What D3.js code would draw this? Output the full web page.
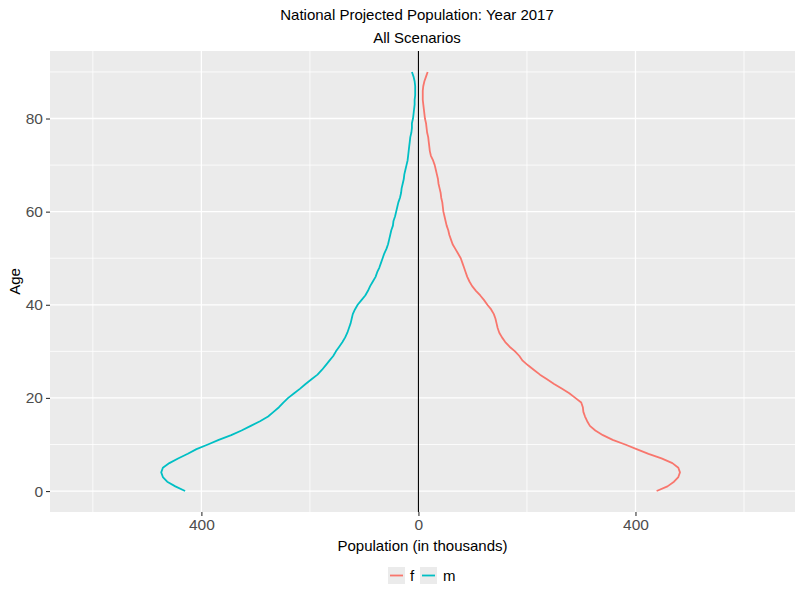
<!DOCTYPE html>
<html>
<head>
<meta charset="utf-8">
<script src="https://cdn.jsdelivr.net/npm/d3@7"></script>
<style>
body { margin: 0; background: #fff; }
svg { display: block; font-family: "Liberation Sans", Arial, sans-serif; }
</style>
</head>
<body>
<svg id="chart" width="800" height="600"></svg>
<script>
const ages = d3.range(0, 91);
const female = [439,459,471,479,482,479,468,448,424,402,
  381,358,340,326,316,311,307,304,303,300,
  289,278,264,250,237,224,213,202,192,186,
  178,168,160,154,149,146,144,142,139,134,
  127,121,114,106,99,94,90,87,84,81,
  78,73,68,63,60,57,55,52,50,48,
  46,45,44,42,41,39,37,36,34,32,
  30,27,23,21,20,19,18,16,15,14,
  12,11,10,9,8,8,8,9,11,14,17];
const male = [-430,-448,-463,-471,-474,-471,-459,-443,-425,-409,
  -388,-368,-345,-326,-309,-292,-277,-267,-257,-249,
  -240,-229,-218,-208,-197,-186,-178,-171,-164,-157,
  -152,-146,-140,-135,-131,-128,-125,-123,-121,-117,
  -112,-105,-98,-93,-89,-84,-79,-76,-72,-69,
  -66,-63,-59,-56,-54,-52,-50,-47,-46,-43,
  -41,-39,-37,-34,-32,-31,-29,-27,-26,-24,
  -22,-20,-19,-18,-17,-16,-15,-13,-12,-12,
  -10,-9,-8,-7,-7,-6,-6,-6,-7,-9,-12];
const seriesNames = ["f", "m"];
const seriesColors = ["#F8766D", "#00BFC4"];
const xMajor = [-400, 0, 400];
const xMinor = [-600, -200, 200, 600];
const yMajor = [0, 20, 40, 60, 80];
const yMinor = [10, 30, 50, 70, 90];
const titleText = "National Projected Population: Year 2017";
const subtitleText = "All Scenarios";
const xTitle = "Population (in thousands)";
const yTitle = "Age";

const svg = d3.select("#chart");
const P = {left: 50, right: 795, top: 51, bottom: 512};

const x = d3.scaleLinear().domain([-679, 694]).range([P.left, P.right]);
const y = d3.scaleLinear().domain([-4.5, 94.5]).range([P.bottom, P.top]);

// panel
svg.append("rect").attr("x", P.left).attr("y", P.top)
  .attr("width", P.right - P.left).attr("height", P.bottom - P.top)
  .attr("fill", "#EBEBEB");

const grid = svg.append("g");
xMinor.forEach(v => grid.append("line").attr("x1", x(v)).attr("x2", x(v))
  .attr("y1", P.top).attr("y2", P.bottom).attr("stroke", "#fff").attr("stroke-width", 0.8));
yMinor.forEach(v => grid.append("line").attr("y1", y(v)).attr("y2", y(v))
  .attr("x1", P.left).attr("x2", P.right).attr("stroke", "#fff").attr("stroke-width", 0.8));
xMajor.forEach(v => grid.append("line").attr("x1", x(v)).attr("x2", x(v))
  .attr("y1", P.top).attr("y2", P.bottom).attr("stroke", "#fff").attr("stroke-width", 1.3));
yMajor.forEach(v => grid.append("line").attr("y1", y(v)).attr("y2", y(v))
  .attr("x1", P.left).attr("x2", P.right).attr("stroke", "#fff").attr("stroke-width", 1.3));

// zero line
svg.append("line").attr("x1", x(0)).attr("x2", x(0))
  .attr("y1", P.top).attr("y2", P.bottom).attr("stroke", "#000").attr("stroke-width", 1.1);

// lines
const line = d3.line().x(d => x(d[1])).y(d => y(d[0]));
[female, male].forEach((vals, i) => {
  svg.append("path").datum(ages.map((a, j) => [a, vals[j]]))
    .attr("d", line).attr("fill", "none")
    .attr("stroke", seriesColors[i]).attr("stroke-width", 1.8)
    .attr("stroke-linejoin", "round");
});

// axes
const xAxis = d3.axisBottom(x).tickValues(xMajor).tickSize(4).tickPadding(3)
  .tickFormat(d => Math.abs(d));
const gx = svg.append("g").attr("transform", `translate(0,${P.bottom})`).call(xAxis);
const yAxis = d3.axisLeft(y).tickValues(yMajor).tickSize(4).tickPadding(3);
const gy = svg.append("g").attr("transform", `translate(${P.left},0)`).call(yAxis);
[gx, gy].forEach(g => {
  g.select(".domain").remove();
  g.selectAll(".tick line").attr("stroke", "#333").attr("stroke-width", 1.1);
  g.selectAll(".tick text").attr("fill", "#4D4D4D").style("font-size", "15.5px")
    .style("font-family", "'Liberation Sans', Arial, sans-serif");
});

// titles
svg.append("text").attr("x", 417).attr("y", 20).attr("text-anchor", "middle")
  .style("font-size", "15px").attr("fill", "#000").text(titleText);
svg.append("text").attr("x", 417).attr("y", 43).attr("text-anchor", "middle")
  .style("font-size", "15px").attr("fill", "#000").text(subtitleText);
svg.append("text").attr("x", (P.left + P.right) / 2).attr("y", 551).attr("text-anchor", "middle")
  .style("font-size", "15px").attr("fill", "#000").text(xTitle);
svg.append("text").attr("transform", `translate(20,${(P.top + P.bottom) / 2}) rotate(-90)`)
  .attr("text-anchor", "middle").style("font-size", "15px").attr("fill", "#000").text(yTitle);

// legend
const leg = svg.append("g");
const keyX = [388, 420], labX = [410, 443];
seriesNames.forEach((n, i) => {
  leg.append("rect").attr("x", keyX[i]).attr("y", 567).attr("width", 17).attr("height", 17)
    .attr("fill", "#EBEBEB");
  leg.append("line").attr("x1", keyX[i] + 2).attr("x2", keyX[i] + 15)
    .attr("y1", 575.5).attr("y2", 575.5).attr("stroke", seriesColors[i]).attr("stroke-width", 1.8);
  leg.append("text").attr("x", labX[i]).attr("y", 581).style("font-size", "15px")
    .attr("fill", "#000").text(n);
});
</script>
</body>
</html>
